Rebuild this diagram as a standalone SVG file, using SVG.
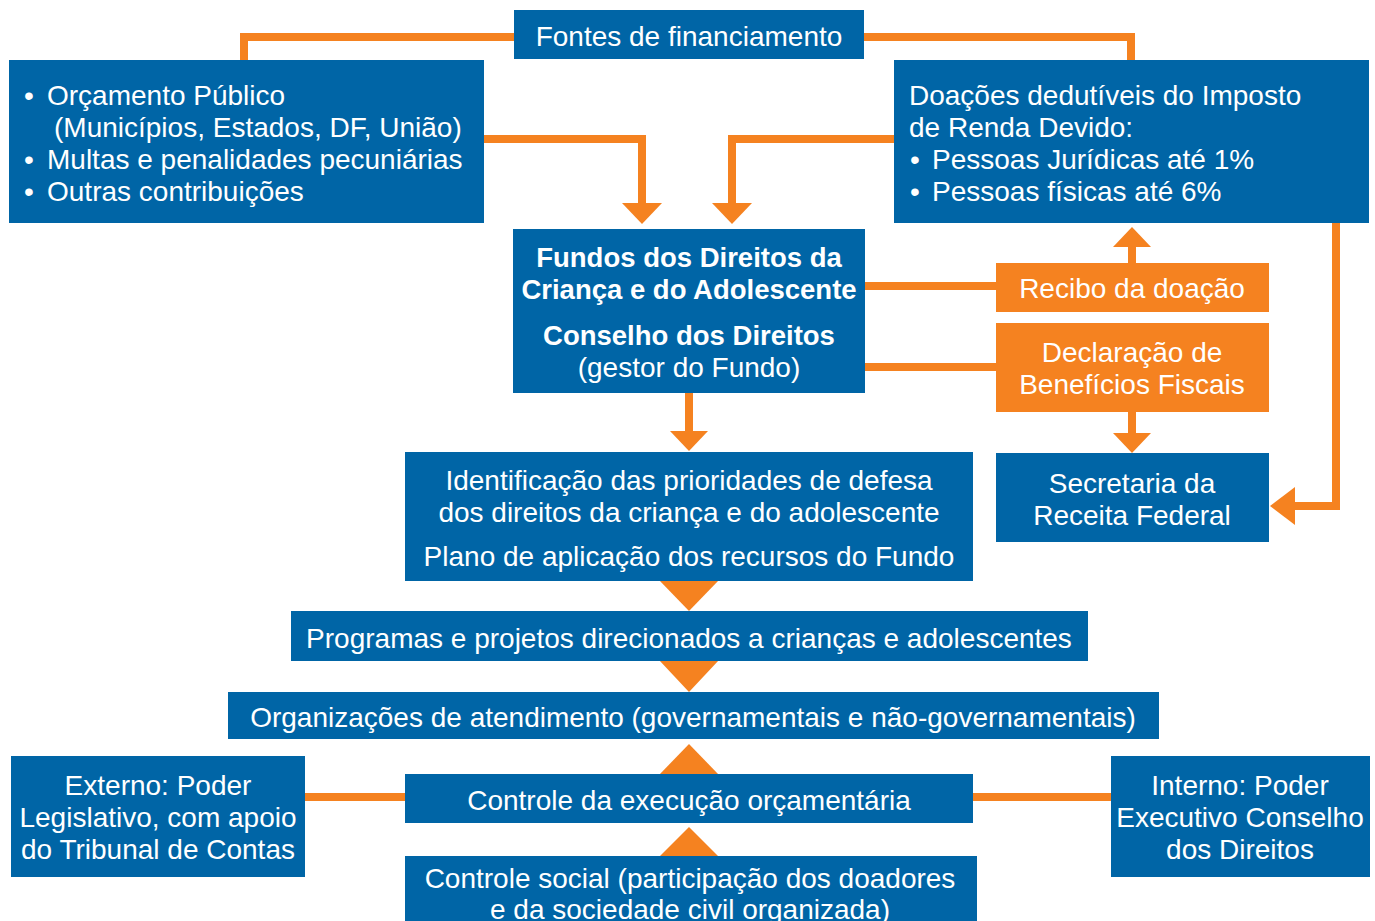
<svg xmlns="http://www.w3.org/2000/svg" width="1375" height="921" viewBox="0 0 1375 921">
<style>
.b{fill:#0065A6}
.o{fill:#F58220}
.t{font-family:"Liberation Sans",Arial,sans-serif;font-size:28px;fill:#fff}
.c{text-anchor:middle}
.bd{font-weight:bold;font-size:27.5px}
.ln{fill:none;stroke:#F58220;stroke-width:8}
</style>
<rect width="1375" height="921" fill="#fff"/>
<g id="connectors">
<polyline class="ln" points="514,37 244,37 244,62"/>
<polyline class="ln" points="864,37 1131,37 1131,62"/>
<polyline class="ln" points="482,139 642,139 642,205"/>
<polygon class="o" points="622,203 662,203 642,224"/>
<polyline class="ln" points="896,139 732,139 732,205"/>
<polygon class="o" points="712,203 752,203 732,224"/>
<line class="ln" x1="1132" y1="265" x2="1132" y2="245"/>
<polygon class="o" points="1113,247 1151,247 1132,227"/>
<line class="ln" x1="863" y1="286" x2="997" y2="286"/>
<line class="ln" x1="863" y1="367" x2="997" y2="367"/>
<line class="ln" x1="1132" y1="410" x2="1132" y2="435"/>
<polygon class="o" points="1113,433 1151,433 1132,453"/>
<polyline class="ln" points="1336,221 1336,506 1293,506"/>
<polygon class="o" points="1295,487 1295,525 1270,506"/>
<line class="ln" x1="689" y1="390" x2="689" y2="433"/>
<polygon class="o" points="670,431 708,431 689,451"/>
<polygon class="o" points="659,580 719,580 689,611"/>
<polygon class="o" points="659,660 719,660 689,692"/>
<polygon class="o" points="659,775 719,775 689,744"/>
<polygon class="o" points="659,857 719,857 689,827"/>
<line class="ln" x1="303" y1="797" x2="407" y2="797"/>
<line class="ln" x1="971" y1="797" x2="1113" y2="797"/>
</g>
<g id="fontes">
<rect class="b" x="514" y="10" width="350" height="49"/>
<text class="t c" x="689" y="46">Fontes de financiamento</text>
</g>
<g id="orcamento">
<rect class="b" x="9" y="60" width="475" height="163"/>
<text class="t" x="24" y="105">•</text>
<text class="t" x="47" y="105">Orçamento Público</text>
<text class="t" x="54" y="137">(Municípios, Estados, DF, União)</text>
<text class="t" x="24" y="169">•</text>
<text class="t" x="47" y="169">Multas e penalidades pecuniárias</text>
<text class="t" x="24" y="201">•</text>
<text class="t" x="47" y="201">Outras contribuições</text>
</g>
<g id="doacoes">
<rect class="b" x="894" y="60" width="475" height="163"/>
<text class="t" x="909" y="105">Doações dedutíveis do Imposto</text>
<text class="t" x="909" y="137">de Renda Devido:</text>
<text class="t" x="910" y="169">•</text>
<text class="t" x="932" y="169">Pessoas Jurídicas até 1%</text>
<text class="t" x="910" y="201">•</text>
<text class="t" x="932" y="201">Pessoas físicas até 6%</text>
</g>
<g id="fundos">
<rect class="b" x="513" y="229" width="352" height="164"/>
<text class="t c bd" x="689" y="267">Fundos dos Direitos da</text>
<text class="t c bd" x="689" y="299">Criança e do Adolescente</text>
<text class="t c bd" x="689" y="345">Conselho dos Direitos</text>
<text class="t c" x="689" y="377">(gestor do Fundo)</text>
</g>
<g id="recibo">
<rect class="o" x="996" y="263" width="273" height="49"/>
<text class="t c" x="1132" y="298">Recibo da doação</text>
</g>
<g id="declaracao">
<rect class="o" x="996" y="323" width="273" height="89"/>
<text class="t c" x="1132" y="362">Declaração de</text>
<text class="t c" x="1132" y="394">Benefícios Fiscais</text>
</g>
<g id="secretaria">
<rect class="b" x="996" y="453" width="273" height="89"/>
<text class="t c" x="1132" y="493">Secretaria da</text>
<text class="t c" x="1132" y="525">Receita Federal</text>
</g>
<g id="identificacao">
<rect class="b" x="405" y="452" width="568" height="129"/>
<text class="t c" x="689" y="490">Identificação das prioridades de defesa</text>
<text class="t c" x="689" y="522">dos direitos da criança e do adolescente</text>
<text class="t c" x="689" y="566">Plano de aplicação dos recursos do Fundo</text>
</g>
<g id="programas">
<rect class="b" x="291" y="611" width="797" height="50"/>
<text class="t c" x="689" y="648">Programas e projetos direcionados a crianças e adolescentes</text>
</g>
<g id="organizacoes">
<rect class="b" x="228" y="692" width="931" height="47"/>
<text class="t c" x="693" y="727">Organizações de atendimento (governamentais e não-governamentais)</text>
</g>
<g id="controle-execucao">
<rect class="b" x="405" y="774" width="568" height="49"/>
<text class="t c" x="689" y="810">Controle da execução orçamentária</text>
</g>
<g id="controle-social">
<rect class="b" x="405" y="856" width="572" height="70"/>
<text class="t c" x="690" y="888">Controle social (participação dos doadores</text>
<text class="t c" x="690" y="919">e da sociedade civil organizada)</text>
</g>
<g id="externo">
<rect class="b" x="11" y="756" width="294" height="121"/>
<text class="t c" x="158" y="795">Externo: Poder</text>
<text class="t c" x="158" y="827">Legislativo, com apoio</text>
<text class="t c" x="158" y="859">do Tribunal de Contas</text>
</g>
<g id="interno">
<rect class="b" x="1111" y="756" width="259" height="121"/>
<text class="t c" x="1240" y="795">Interno: Poder</text>
<text class="t c" x="1240" y="827">Executivo Conselho</text>
<text class="t c" x="1240" y="859">dos Direitos</text>
</g>
</svg>
